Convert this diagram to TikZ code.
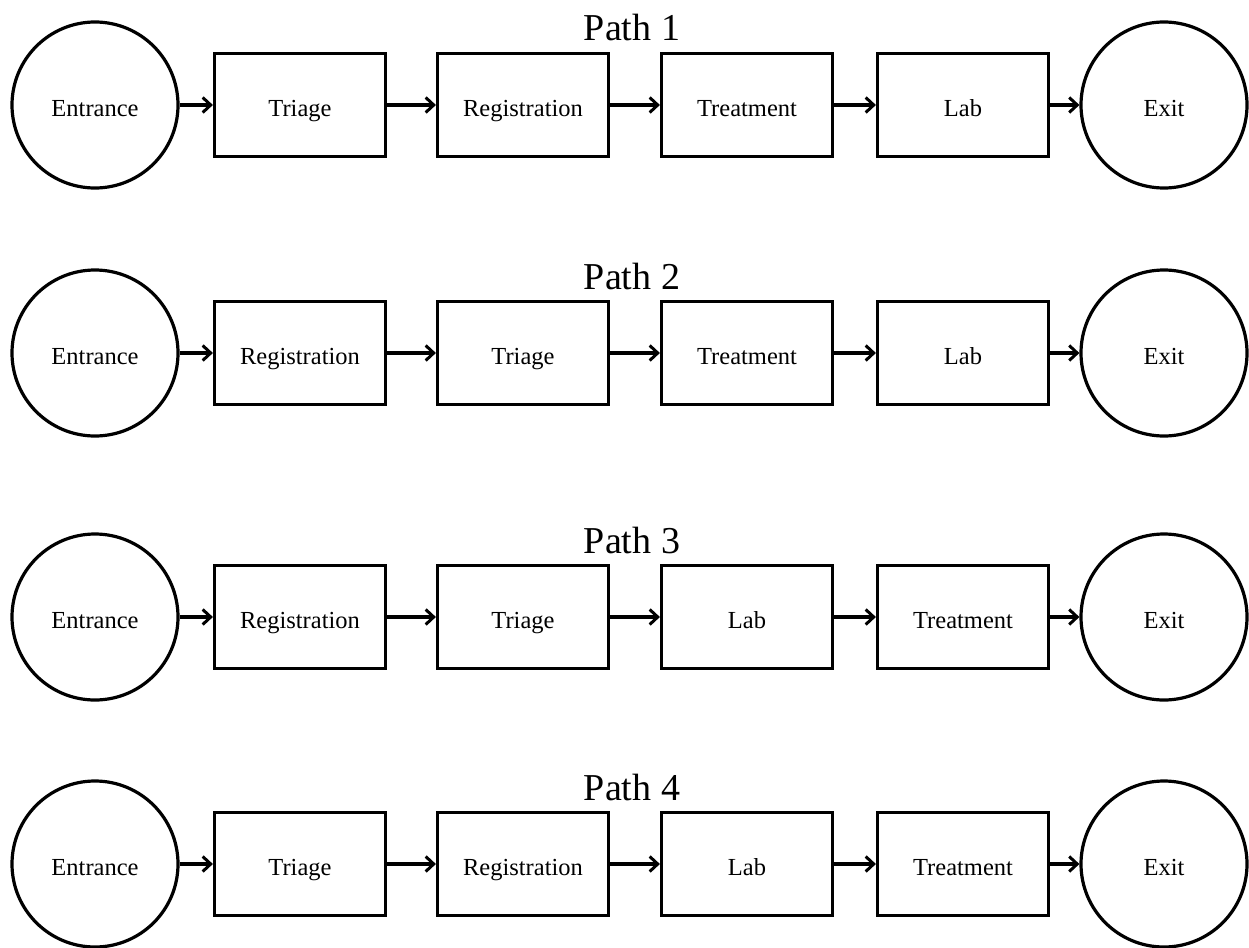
\documentclass[tikz,border=0pt]{standalone}
\usepackage{fontspec}
\setmainfont{Liberation Serif}
\usetikzlibrary{arrows.meta}
\begin{document}
\begin{tikzpicture}[x=1pt,y=-1pt,
  line width=3.2pt,
  label text/.style={font=\fontsize{24.5}{26}\selectfont, text height=24pt, text depth=1pt},
  stage/.style={draw, rectangle, minimum width=171pt, minimum height=103pt,
    inner sep=0pt, label text},
  terminal/.style={draw, circle, minimum size=166pt, inner sep=0pt, label text},
  heading/.style={font=\fontsize{38}{40}\selectfont, inner sep=0pt},
  flow/.style={-{Straight Barb[length=8pt,width=15pt,line width=3pt]}, line width=3.4pt}]
\useasboundingbox (0,0) rectangle (1249,947);

% one row: name prefix, centre y, title, four stage labels
\newcommand{\pathrow}[7]{%
  \node[heading] (#1t) at (632,{#2-77}) {#3};
  \node[terminal] (#1in)  at (95,#2) {Entrance};
  \node[stage]    (#1s1)  at (300,#2) {#4};
  \node[stage]    (#1s2)  at (523,#2) {#5};
  \node[stage]    (#1s3)  at (747,#2) {#6};
  \node[stage]    (#1s4)  at (963,#2) {#7};
  \node[terminal] (#1out) at (1164,#2) {Exit};
  \draw[flow] (#1in) -- (#1s1);
  \draw[flow] (#1s1) -- (#1s2);
  \draw[flow] (#1s2) -- (#1s3);
  \draw[flow] (#1s3) -- (#1s4);
  \draw[flow] (#1s4) -- (#1out);
}

\pathrow{a}{105}{Path 1}{Triage}{Registration}{Treatment}{Lab}
\pathrow{b}{353}{Path 2}{Registration}{Triage}{Treatment}{Lab}
\pathrow{c}{617}{Path 3}{Registration}{Triage}{Lab}{Treatment}
\pathrow{d}{864}{Path 4}{Triage}{Registration}{Lab}{Treatment}
\end{tikzpicture}
\end{document}
